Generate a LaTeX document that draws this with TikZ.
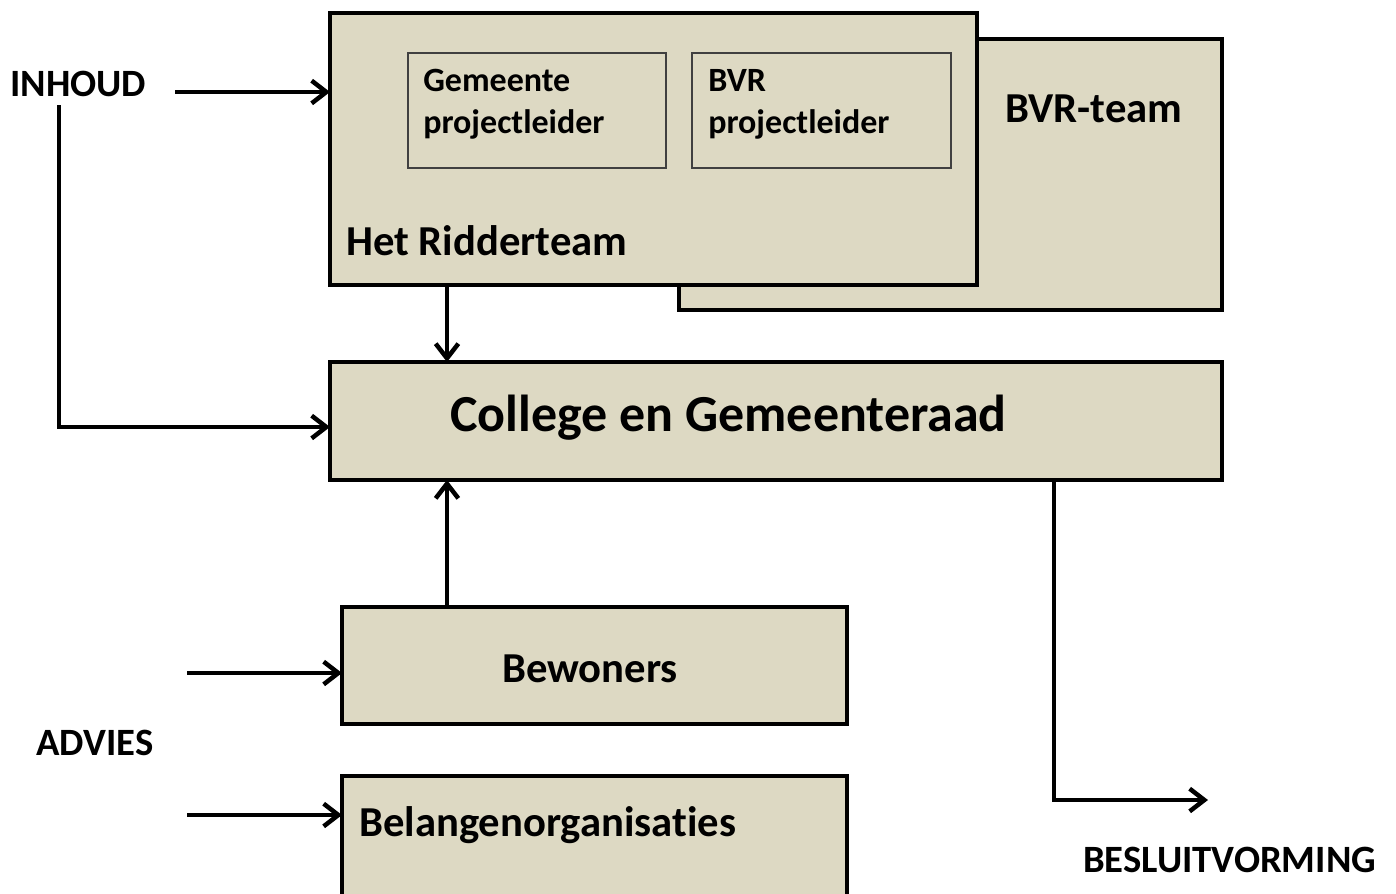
\documentclass[tikz,border=0pt]{standalone}
\usepackage{fontspec}
\setmainfont[RawFeature=-liga]{Carlito}
\usetikzlibrary{arrows.meta}
\definecolor{boxtan}{HTML}{DDD9C3}
\tikzset{
  mybox/.style={draw=black, fill=boxtan, line width=2.6pt},
  myinner/.style={draw=black!75, line width=0.8pt},
  myconn/.style={line width=2.6pt, -{Straight Barb[length=11pt,width=17pt,line width=0pt 1.3]}},
  lbl/.style={anchor=base west, inner sep=0pt, font=\bfseries\fontsize{29}{34}\selectfont},
  big/.style={anchor=base west, inner sep=0pt, font=\bfseries\fontsize{32}{38}\selectfont},
  small/.style={anchor=base west, inner sep=0pt, align=left, font=\bfseries\fontsize{25.5}{31}\selectfont},
}
\begin{document}
\begin{tikzpicture}[x=0.75pt,y=-0.75pt]
\useasboundingbox (0,0) rectangle (1396,893);
% boxes
\draw[mybox] (679,39) rectangle (1222,310);
\node (bvrtxt) [big] at (1005,122) {BVR-team};
\draw[mybox] (330,13) rectangle (977,285);
\draw[myinner] (408,53) rectangle (666,168);
\draw[myinner] (692,53) rectangle (951,168);
\node (gem) [small] at (423,133) {Gemeente\\projectleider};
\node (bvr) [small] at (708,133) {BVR\\projectleider};
\node (rid) [big] at (346,255) {Het Ridderteam};
\draw[mybox] (330,362) rectangle (1222,480);
\node (col) [anchor=base west, inner sep=0pt, font=\bfseries\fontsize{39}{46}\selectfont] at (450,431) {College en Gemeenteraad};
\draw[mybox] (342,607) rectangle (847,724);
\node (bew) [big] at (502,682) {Bewoners};
\draw[mybox] (342,776) rectangle (847,905);
\node (bel) [big] at (359,836) {Belangenorganisaties};
% labels
\node (inhoud) [lbl] at (10,96) {INHOUD};
\node (advies) [lbl] at (36,755) {ADVIES};
\node (besl) [lbl] at (1083,872) {BESLUITVORMING};
% coordinates
\coordinate (a1s) at (175,92);
\coordinate (a1e) at (330,92);
\coordinate (v1s) at (59,105);
\coordinate (v1c) at (59,427);
\coordinate (v1e) at (330,427);
\coordinate (rdown) at (447,285);
\coordinate (ctop) at (447,362);
\coordinate (bup) at (447,607);
\coordinate (cbot) at (447,480);
\coordinate (ad1s) at (187,673);
\coordinate (ad1e) at (342,673);
\coordinate (ad2s) at (187,815);
\coordinate (ad2e) at (342,815);
\coordinate (bs) at (1054,480);
\coordinate (bc) at (1054,800);
\coordinate (be) at (1208,800);
% connectors
\draw[myconn] (a1s) -- (a1e);
\draw[myconn] (v1s) -- (v1c) -- (v1e);
\draw[myconn] (rdown) -- (ctop);
\draw[myconn] (bup) -- (cbot);
\draw[myconn] (ad1s) -- (ad1e);
\draw[myconn] (ad2s) -- (ad2e);
\draw[myconn] (bs) -- (bc) -- (be);
\end{tikzpicture}
\end{document}
